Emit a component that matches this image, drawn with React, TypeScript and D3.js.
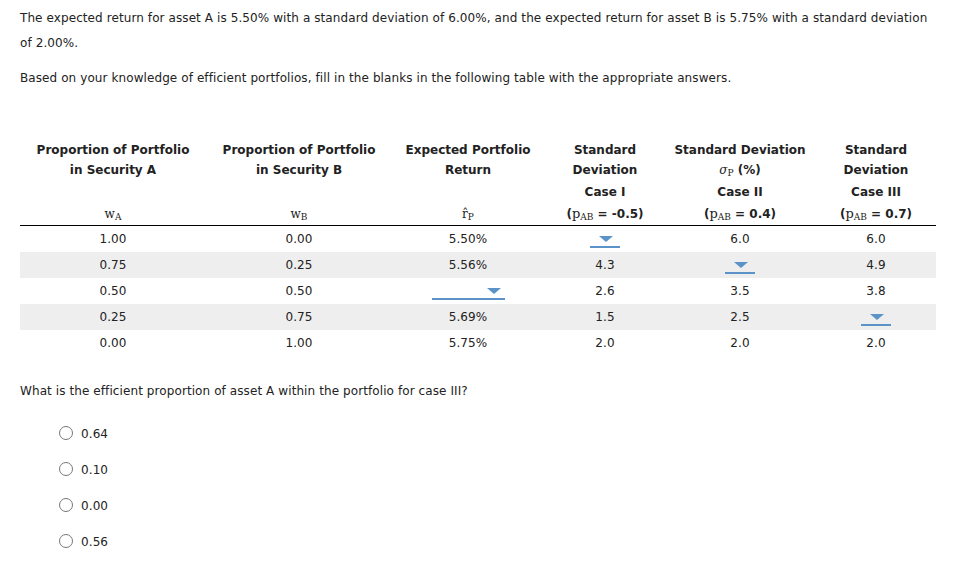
import React from "react";
import * as d3 from "d3";

const intro1 = "The expected return for asset A is 5.50% with a standard deviation of 6.00%, and the expected return for asset B is 5.75% with a standard deviation";
const intro2 = "of 2.00%.";
const intro3 = "Based on your knowledge of efficient portfolios, fill in the blanks in the following table with the appropriate answers.";
const question = "What is the efficient proportion of asset A within the portfolio for case III?";

const wA = ["1.00", "0.75", "0.50", "0.25", "0.00"];
const wB = ["0.00", "0.25", "0.50", "0.75", "1.00"];
const expReturn: (string | null)[] = ["5.50%", "5.56%", null, "5.69%", "5.75%"];
const sdCase1: (string | null)[] = [null, "4.3", "2.6", "1.5", "2.0"];
const sdCase2: (string | null)[] = ["6.0", null, "3.5", "2.5", "2.0"];
const sdCase3: (string | null)[] = ["6.0", "4.9", "3.8", null, "2.0"];
const options = ["0.64", "0.10", "0.00", "0.56"];

const columns = ["wA", "wB", "ret", "sd1", "sd2", "sd3"];
const colCenters = [113, 299, 468, 605, 740, 876];

const SANS = "'DejaVu Sans', Verdana, sans-serif";
const SERIF = "'DejaVu Serif', 'Liberation Serif', serif";
const TXT = "#222";
const LS = 0.09;

export default function App() {
  const W = 970, H = 563;
  const x = d3.scaleOrdinal<string, number>().domain(columns).range(colCenters);
  const rowIdx = d3.range(wA.length).map(String);
  const y = d3.scaleBand().domain(rowIdx).range([226, 356]).padding(0);
  const optY = d3.scalePoint().domain(options).range([433, 541]);
  const series: (string | null)[][] = [wA, wB, expReturn, sdCase1, sdCase2, sdCase3];

  const dropdown = (cx: number, cy: number, key: string, wide = false) => {
    const x0 = wide ? cx - 36 : cx - 15;
    const x1 = wide ? cx + 37 : cx + 15;
    const tx = wide ? cx + 26 : cx + 1;
    return (
      <g key={key}>
        <path d={`M${tx - 7},${cy - 3} L${tx + 7},${cy - 3} L${tx},${cy + 3} Z`} fill="#5b93c8" />
        <line x1={x0} x2={x1} y1={cy + 8} y2={cy + 8} stroke="#5b93c8" strokeWidth={2} />
      </g>
    );
  };

  const headBold = { fontFamily: SANS, fontSize: 12, fontWeight: 700, fill: TXT, textAnchor: "middle" as const };

  return (
    <svg width={W} height={H} style={{ position: "absolute", left: 0, top: 0, background: "#fff" }}>
      <rect x={0} y={0} width={W} height={H} fill="#fff" />
      <g fontFamily={SANS} fontSize={12} fill={TXT} letterSpacing={LS}>
        <text x={20} y={22}>{intro1}</text>
        <text x={20} y={47}>{intro2}</text>
        <text x={20} y={82}>{intro3}</text>
      </g>

      {/* header */}
      <g>
        <text x={x("wA")} y={154} {...headBold}>Proportion of Portfolio</text>
        <text x={x("wA")} y={174} {...headBold}>in Security A</text>
        <text x={x("wB")} y={154} {...headBold}>Proportion of Portfolio</text>
        <text x={x("wB")} y={174} {...headBold}>in Security B</text>
        <text x={x("ret")} y={154} {...headBold}>Expected Portfolio</text>
        <text x={x("ret")} y={174} {...headBold}>Return</text>
        <text x={x("sd1")} y={154} {...headBold}>Standard</text>
        <text x={x("sd1")} y={174} {...headBold}>Deviation</text>
        <text x={x("sd1")} y={196} {...headBold}>Case I</text>
        <text x={x("sd2")} y={154} {...headBold}>Standard Deviation</text>
        <text x={x("sd2")} y={174} {...headBold}>
          <tspan fontFamily={SERIF} fontStyle="italic" fontWeight={400}>σ</tspan>
          <tspan fontFamily={SERIF} fontWeight={400} fontSize={9} dy={2}>P</tspan>
          <tspan dy={-2}> (%)</tspan>
        </text>
        <text x={x("sd2")} y={196} {...headBold}>Case II</text>
        <text x={x("sd3")} y={154} {...headBold}>Standard</text>
        <text x={x("sd3")} y={174} {...headBold}>Deviation</text>
        <text x={x("sd3")} y={196} {...headBold}>Case III</text>
        {[["sd1", "-0.5"], ["sd2", "0.4"], ["sd3", "0.7"]].map(([c, v]) => (
          <text key={c} x={x(c)} y={218} {...headBold}>
            <tspan>(</tspan>
            <tspan fontFamily={SERIF} fontWeight={400} fontSize={13}>p</tspan>
            <tspan fontFamily={SERIF} fontWeight={400} fontSize={9} dy={2}>AB</tspan>
            <tspan dy={-2}>{` = ${v})`}</tspan>
          </text>
        ))}
        {[["wA", "w", "A"], ["wB", "w", "B"], ["ret", "r̂", "P"]].map(([c, m, s]) => (
          <text key={c} x={x(c)} y={218} fontFamily={SERIF} fontSize={12} fill={TXT} textAnchor="middle">
            <tspan>{m}</tspan>
            <tspan fontSize={9} dy={2}>{s}</tspan>
          </text>
        ))}
        <line x1={20} x2={936} y1={225.5} y2={225.5} stroke="#000" strokeWidth={1} />
      </g>

      {/* rows */}
      <g>
        {rowIdx.map((r, i) =>
          i % 2 === 1 ? (
            <rect key={"bg" + r} x={20} y={y(r)!} width={916} height={y.bandwidth()} fill="#eeeeee" />
          ) : null
        )}
        {series.map((vals, ci) =>
          vals.map((v, ri) => {
            const cx = x(columns[ci]);
            const cy = y(String(ri))! + y.bandwidth() / 2;
            if (v === null) return dropdown(cx, cy, `dd${ci}-${ri}`, columns[ci] === "ret");
            return (
              <text key={`t${ci}-${ri}`} x={cx} y={cy + 4} fontFamily={SANS} fontSize={12} fill={TXT} textAnchor="middle" letterSpacing={LS}>
                {v}
              </text>
            );
          })
        )}
      </g>

      <text x={20} y={395} fontFamily={SANS} fontSize={12} fill={TXT} letterSpacing={LS}>{question}</text>

      <g>
        {options.map((o) => (
          <g key={o}>
            <circle cx={66} cy={optY(o)!} r={6.5} fill="#fff" stroke="#777" strokeWidth={1} />
            <text x={81} y={optY(o)! + 5} fontFamily={SANS} fontSize={12} fill={TXT} letterSpacing={LS}>{o}</text>
          </g>
        ))}
      </g>
    </svg>
  );
}
